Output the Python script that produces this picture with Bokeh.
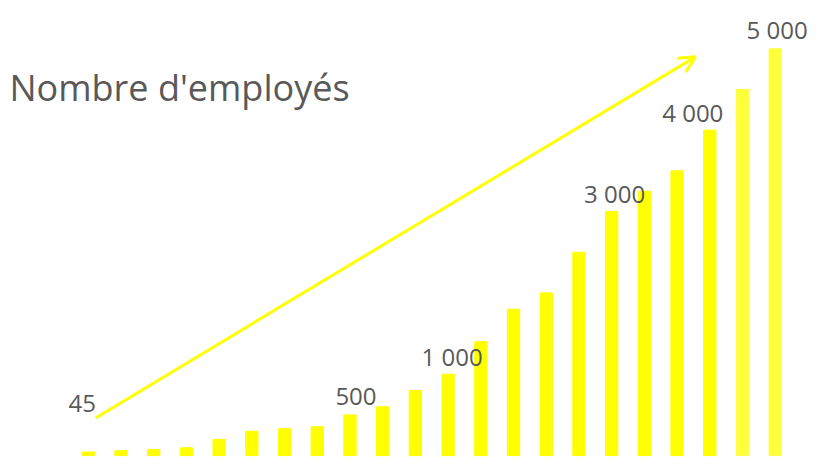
from bokeh.plotting import figure
from bokeh.models import ColumnDataSource, Range1d, Arrow, OpenHead, Label
from bokeh.embed import file_html
from bokeh.resources import INLINE
from bokeh.core.properties import value

# ---- data ----
positions = list(range(1, 23))
employees = [45, 60, 75, 95, 200, 300, 330, 355, 500, 600, 800, 1000,
             1400, 1800, 2000, 2500, 3000, 3250, 3500, 4000, 4500, 5000]
labelled_positions = [1, 9, 12, 17, 20, 22]
label_texts = ["45", "500", "1 000", "3 000", "4 000", "5 000"]
title_text = "Nombre d'employés"

# ---- styling ----
YELLOW = "#FFFF00"
LIGHT_YELLOW = "#FFFF3C"
TEXT = "#595959"
FONT = "Open Sans"
bar_colors = [YELLOW] * 20 + [LIGHT_YELLOW] * 2
label_dx = [-6, 6, 4, 3, -17, 2]
label_dy = [-48, -18, -18, -18, -18, -19]

W, H = 814, 458
p = figure(width=W, height=H, output_backend="svg", toolbar_location=None,
           x_range=Range1d(-1.684, 23.202), y_range=Range1d(-35.6, 5593.7),
           min_border=0)
p.axis.visible = False
p.grid.visible = False
p.outline_line_color = None
p.background_fill_color = "white"
p.border_fill_color = "white"

src = ColumnDataSource(dict(x=positions, top=employees, color=bar_colors))
p.vbar(x="x", top="top", width=0.375, bottom=0, color="color", source=src)

lab_src = ColumnDataSource(dict(
    x=labelled_positions,
    y=[employees[positions.index(i)] for i in labelled_positions],
    text=label_texts, dx=label_dx, dy=label_dy))
p.text(x="x", y="y", text="text", x_offset="dx", y_offset="dy", source=lab_src,
       text_font=value(FONT), text_font_size="24px", text_color=TEXT,
       text_align="center", text_baseline="alphabetic")

# arrow across the bars (data units)
arrow_start = (1.226, 463)
arrow_end = (19.561, 4901)
p.add_layout(Arrow(x_start=arrow_start[0], y_start=arrow_start[1],
                   x_end=arrow_end[0], y_end=arrow_end[1],
                   line_color=YELLOW, line_width=3,
                   end=OpenHead(size=16, line_color=YELLOW, line_width=3)))

p.add_layout(Label(x=9, y=371, x_units="screen", y_units="screen",
                   text=title_text, text_font=FONT, text_font_size="36px",
                   text_color=TEXT, text_baseline="alphabetic"))

open("out.html", "w").write(file_html(p, INLINE))
